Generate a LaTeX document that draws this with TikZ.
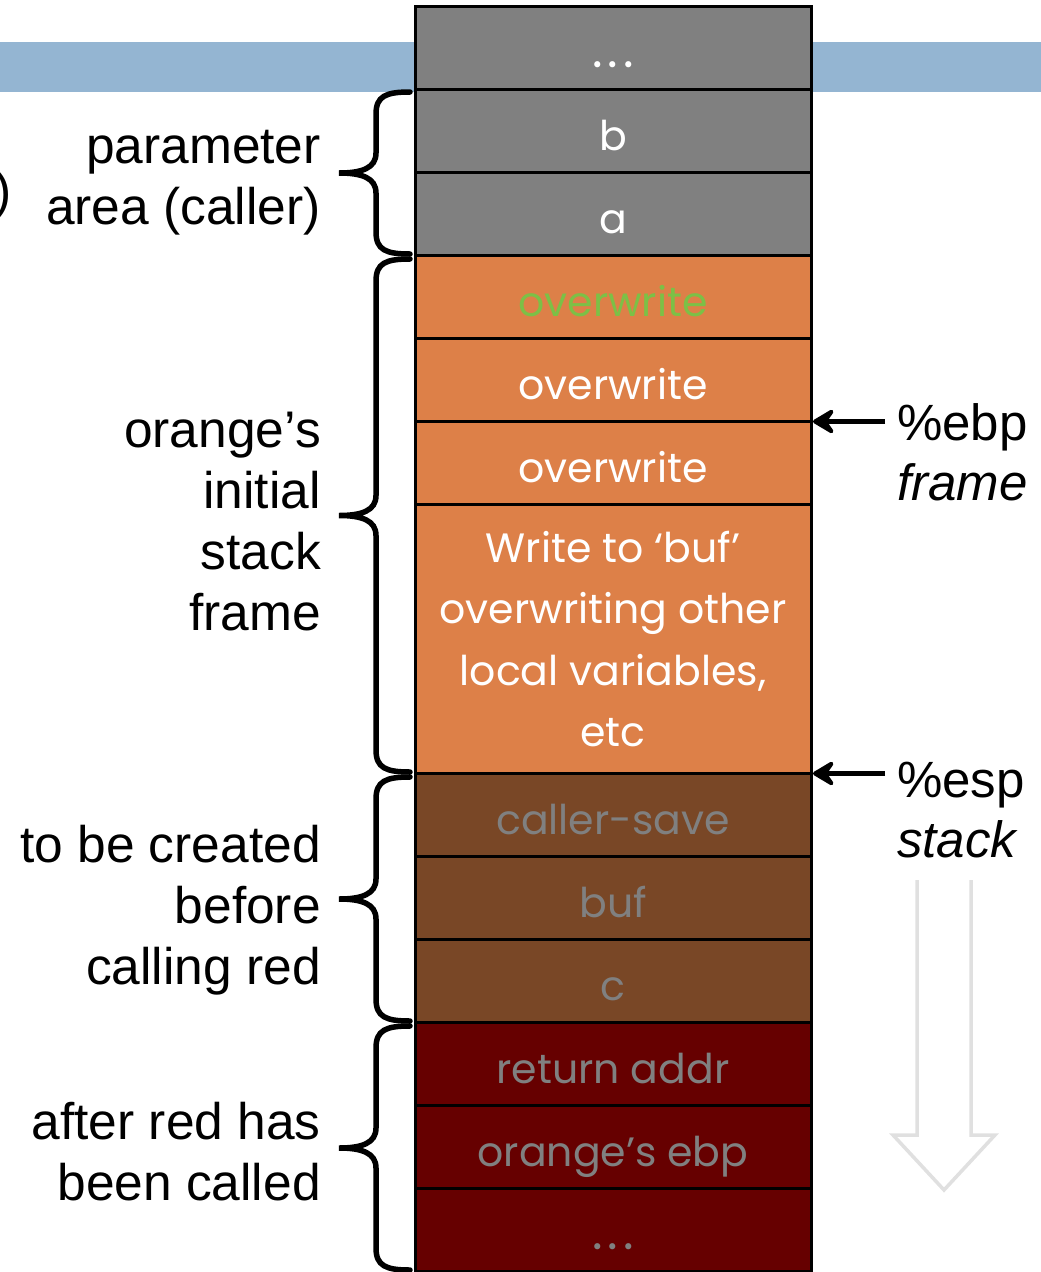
\documentclass[tikz,border=0pt]{standalone}
\usepackage{fontspec}
\setmainfont{Liberation Sans}
\newfontfamily\cellfont{Poppins}
\usetikzlibrary{arrows,arrows.meta,positioning}

\definecolor{slotgray}{RGB}{128,128,128}
\definecolor{bandblue}{RGB}{148,181,210}
\definecolor{orangefr}{RGB}{221,128,72}
\definecolor{brownfr}{RGB}{121,71,38}
\definecolor{redfr}{RGB}{102,0,0}
\definecolor{overgreen}{RGB}{124,192,70}

% curly brace left of the stack, from y #1 down to y #2
\newcommand{\sbrace}[2]{%
  \pgfmathsetmacro{\ym}{(#1+#2)/2}
  \draw[bracel] (410,#1) .. controls (386,#1) and (376,#1+4) .. (376,#1+22)
    -- (376,\ym-20) .. controls (376,\ym-5) and (362,\ym) .. (339,\ym)
    .. controls (362,\ym) and (376,\ym+5) .. (376,\ym+20)
    -- (376,#2-22) .. controls (376,#2-4) and (386,#2) .. (410,#2);}
\newcommand{\sdots}{\vphantom{b}{\fontsize{50}{61}\selectfont.\hspace{5pt}.\hspace{5pt}.}}

\begin{document}
\begin{tikzpicture}[x=1pt,y=-1pt,
  cell/.style={draw=black,line width=3pt,minimum width=396pt,minimum height=83pt,
    inner sep=0pt,outer sep=0pt,font=\cellfont\fontsize{41}{61.5}\selectfont,align=center},
  slot/.style={cell,text height=38pt,text depth=0pt},
  lbl/.style={font=\fontsize{51.5}{61}\selectfont,align=right,anchor=east,inner sep=0pt},
  reg/.style={font=\fontsize{51}{61}\selectfont,anchor=base west,inner sep=0pt},
  bracel/.style={line width=5.5pt,line cap=round},
  ptr/.style={-{Stealth[length=27pt,width=32pt,inset=11pt,round]},line width=5.5pt,shorten >=2pt,shorten <=12pt}]
  \useasboundingbox (0,0) rectangle (1041,1272);
  \fill[bandblue] (0,42) rectangle (1041,92);

  \node[slot,fill=slotgray,text=white] (top)   at (613,48)     {\sdots};
  \node[slot,fill=slotgray,text=white] (b)     [below=0pt of top]  {b};
  \node[slot,fill=slotgray,text=white] (a)     [below=0pt of b]    {a};
  \node[slot,fill=orangefr,text=overgreen] (ow1) [below=0pt of a]  {overwrite};
  \node[slot,fill=orangefr,text=white] (ow2)   [below=0pt of ow1]  {overwrite};
  \node[slot,fill=orangefr,text=white] (ow3)   [below=0pt of ow2]  {overwrite};
  \node[cell,fill=orangefr,text=white,minimum height=269pt] (wbuf) [below=0pt of ow3]
    {Write to ‘buf’\\overwriting other\\local variables,\\etc};
  \node[slot,fill=brownfr,text=slotgray] (csave) [below=0pt of wbuf]  {caller-save};
  \node[slot,fill=brownfr,text=slotgray] (buf)   [below=0pt of csave] {buf};
  \node[slot,fill=brownfr,text=slotgray] (c)     [below=0pt of buf]   {c};
  \node[slot,fill=redfr,text=slotgray]   (ret)   [below=0pt of c]     {return addr};
  \node[slot,fill=redfr,text=slotgray]   (oebp)  [below=0pt of ret]   {orange’s ebp};
  \node[slot,fill=redfr,text=slotgray]   (bot)   [below=0pt of oebp]  {\sdots};

  % braces
  \sbrace{92}{254}
  \sbrace{259}{772}
  \sbrace{777}{1021}
  \sbrace{1026}{1270}

  \node[lbl] (cut)    at (12,195)  {)};
  \node[lbl] (param)  at (321,183) {parameter\\area (caller)};
  \node[lbl] (init)   at (321,522) {orange’s\\initial\\stack\\frame};
  \node[lbl] (create) at (321,910) {to be created\\before\\calling red};
  \node[lbl] (called) at (321,1152) {after red has\\been called};

  % registers
  \node[reg] (ebp)   at (897,440) {\%ebp};
  \node[reg] (frame) at (897,500) {\itshape frame};
  \node[reg] (esp)   at (897,797) {\%esp};
  \node[reg] (stk)   at (897,857) {\itshape stack};
  \draw[ptr] (ebp.west |- ow3.north east) -- (ow3.north east);
  \draw[ptr] (esp.west |- csave.north east) -- (csave.north east);

  % growth direction
  \draw[draw=black!12,line width=3.5pt,fill=white,line join=miter]
    (971,880) -- (971,1135) -- (995,1135) -- (944,1190) -- (893,1135) -- (917,1135) -- (917,880);
\end{tikzpicture}
\end{document}
